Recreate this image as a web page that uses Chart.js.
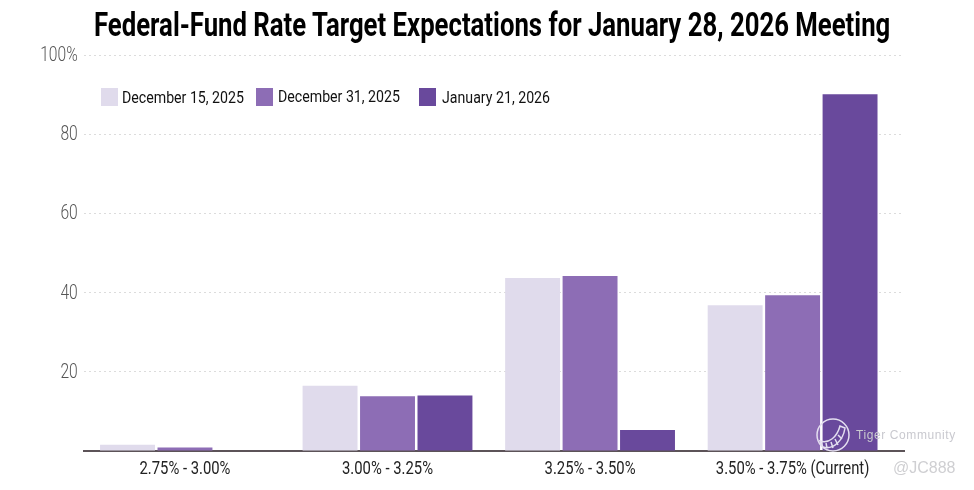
<!DOCTYPE html>
<html>
<head>
<meta charset="utf-8">
<script src="https://cdn.jsdelivr.net/npm/chart.js@4"></script>
<style>
  html, body { margin: 0; padding: 0; background: #fff; }
  #wrap { position: relative; width: 974px; height: 490px; overflow: hidden; font-family: Roboto, sans-serif; }
  #chart { position: absolute; left: 0; top: 0; }
  #title { position: absolute; left: 94px; top: 4px; font-size: 34px; font-weight: bold; color: #000; white-space: nowrap; line-height: 40px; transform: scaleX(0.7565); transform-origin: left top; }
  .sw { position: absolute; top: 88px; width: 17px; height: 18px; }
  .lb { position: absolute; top: 89px; font-size: 16px; line-height: 18px; color: #111; white-space: nowrap; transform: scaleX(0.885); transform-origin: left top; }
  #tiger { position: absolute; left: 856px; top: 428px; font: 12px "Liberation Sans", sans-serif; color: #c9c9cf; letter-spacing: .6px; }
  #handle { position: absolute; left: 893px; top: 459px; font: 16px "Liberation Sans", sans-serif; color: #cfcfd2; }
  #logo { position: absolute; left: 815px; top: 417px; }
</style>
</head>
<body>
<div id="wrap">
  <canvas id="chart" width="974" height="490"></canvas>
  <div id="title">Federal-Fund Rate Target Expectations for January 28, 2026 Meeting</div>
  <div class="sw" style="left:101px;background:#e0dbec"></div>
  <div class="lb" style="left:122px">December 15, 2025</div>
  <div class="sw" style="left:256px;background:#8d6db5"></div>
  <div class="lb" style="left:278px;top:88px">December 31, 2025</div>
  <div class="sw" style="left:419px;background:#69499c"></div>
  <div class="lb" style="left:442px">January 21, 2026</div>
  <svg id="logo" width="36" height="36" viewBox="0 0 36 36" fill="none" stroke="#e4dff0" stroke-width="1.5">
    <circle cx="18" cy="18" r="16"></circle>
    <path d="M5 24 C14 27 22 20 25 9 L30 11 C28 24 18 33 8 30 Z"></path>
    <path d="M11 26 L12 31 M16 25 L18 31 M20 22 L23 28 M23 18 L27 22"></path>
  </svg>
  <div id="tiger">Tiger Community</div>
  <div id="handle">@JC888</div>
</div>
<script>
const categories = ['2.75% - 3.00%', '3.00% - 3.25%', '3.25% - 3.50%', '3.50% - 3.75% (Current)'];
const dec15 = [1.6, 16.5, 43.7, 36.8];
const dec31 = [0.9, 13.8, 44.2, 39.3];
const jan21 = [0, 14, 5.3, 90.1];
const yTicks = [0, 20, 40, 60, 80, 100];

function toPoints(values) {
    return values.map((v, i) => ({ x: i, y: v }));
}

function makeSet(label, values, color) {
    return {
        label: label,
        data: toPoints(values),
        backgroundColor: color,
        categoryPercentage: 0.851,
        barPercentage: 0.956
    };
}

const ctx = document.getElementById('chart').getContext('2d');

// no condensed font installed, so squeeze the axis text by hand
const rawFill = ctx.fillText.bind(ctx);
ctx.fillText = function(text, x, y) {
    ctx.save();
    ctx.translate(x, y + 1);
    ctx.scale(0.78, 1);
    rawFill(text, 0, 0);
    ctx.restore();
};

new Chart(ctx, {
    type: 'bar',
    data: {
        datasets: [
            makeSet('December 15, 2025', dec15, '#e0dbec'),
            makeSet('December 31, 2025', dec31, '#8d6db5'),
            makeSet('January 21, 2026', jan21, '#69499c')
        ]
    },
    options: {
        responsive: false,
        animation: false,
        layout: { padding: { top: 55, right: 70, bottom: 0, left: 0 } },
        plugins: { legend: { display: false }, title: { display: false }, tooltip: { enabled: false } },
        scales: {
            x: {
                type: 'linear',
                offset: false,
                min: -0.5,
                max: 3.55,
                afterBuildTicks: axis => { axis.ticks = categories.map((c, i) => ({ value: i })); },
                afterFit: axis => { axis.height = 39; },
                grid: { display: false, offset: false },
                border: { color: '#5c5358', width: 2 },
                ticks: {
                    autoSkip: false,
                    maxRotation: 0,
                    padding: -2,
                    color: '#222',
                    font: { family: 'Roboto', size: 19 },
                    callback: value => categories[value]
                }
            },
            y: {
                min: 0,
                max: 100,
                afterBuildTicks: axis => { axis.ticks = yTicks.map(v => ({ value: v })); },
                afterFit: axis => { axis.width = 83.7; },
                grid: {
                    color: c => c.tick.value === 0 ? 'rgba(0,0,0,0)' : '#dcdcdc',
                    drawTicks: false
                },
                border: { display: false, dash: [2, 3] },
                ticks: {
                    padding: 6,
                    color: '#555',
                    font: { family: 'Roboto', size: 20, weight: '300' },
                    callback: value => value === 0 ? '' : (value === 100 ? '100%' : value)
                }
            }
        }
    }
});
</script>
</body>
</html>
